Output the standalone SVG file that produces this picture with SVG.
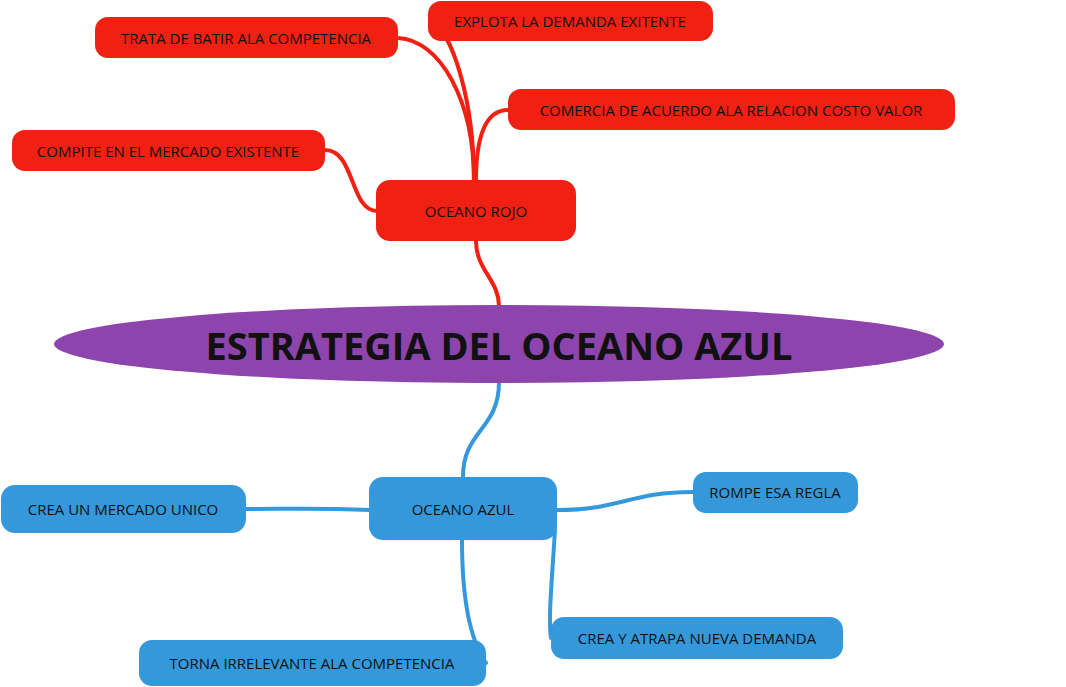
<svg xmlns="http://www.w3.org/2000/svg" width="1066" height="687" viewBox="0 0 1066 687">
<style>
.r{fill:#f02013}.b{fill:#3498db}
.t{font-family:"Open Sans",sans-serif;font-size:15px;fill:#111;text-anchor:middle;dominant-baseline:central}
.cr{fill:none;stroke:#f02013;stroke-width:4;stroke-linecap:round}
.cb{fill:none;stroke:#3498db;stroke-width:4;stroke-linecap:round}
</style>
<rect width="1066" height="687" fill="#fff"/>
<g id="connectors">
<path class="cr" d="M499,306 C499,280 476,270 476,241"/>
<path class="cr" d="M474,181 C474,100 440,40 398,38"/>
<path class="cr" d="M474,181 C474,100 452,30 430,20"/>
<path class="cr" d="M476,181 C476,130 488,110 508,110"/>
<path class="cr" d="M377,211 C350,211 355,150 325,150"/>
<path class="cb" d="M499,382 C499,430 463,430 463,477"/>
<path class="cb" d="M370,510 C320,508 290,509 246,509"/>
<path class="cb" d="M557,510 C620,510 630,492 693,492"/>
<path class="cb" d="M555,530 C552,580 548,620 551,638"/>
<path class="cb" d="M462,540 C462,600 470,640 486,663"/>
</g>
<g id="root"><ellipse cx="499" cy="344" rx="445" ry="39" fill="#8e44ad"/><text x="499" y="345" class="t" style="font-size:38px;font-weight:bold">ESTRATEGIA DEL OCEANO AZUL</text></g>
<g id="oceano-rojo"><rect class="r" x="376" y="180" width="200" height="61" rx="14"/><text class="t" x="476" y="211">OCEANO ROJO</text></g>
<g id="trata"><rect class="r" x="95" y="17" width="303" height="41" rx="13"/><text class="t" x="246" y="38">TRATA DE BATIR ALA COMPETENCIA</text></g>
<g id="explota"><rect class="r" x="428" y="1" width="285" height="40" rx="13"/><text class="t" x="570" y="21">EXPLOTA LA DEMANDA EXITENTE</text></g>
<g id="comercia"><rect class="r" x="508" y="89" width="447" height="41" rx="13"/><text class="t" x="731" y="110">COMERCIA DE ACUERDO ALA RELACION COSTO VALOR</text></g>
<g id="compite"><rect class="r" x="12" y="130" width="313" height="41" rx="13"/><text class="t" x="168" y="151">COMPITE EN EL MERCADO EXISTENTE</text></g>
<g id="oceano-azul"><rect class="b" x="369" y="477" width="188" height="63" rx="14"/><text class="t" x="463" y="509">OCEANO AZUL</text></g>
<g id="crea-mercado"><rect class="b" x="1" y="485" width="245" height="48" rx="14"/><text class="t" x="123" y="509">CREA UN MERCADO UNICO</text></g>
<g id="rompe"><rect class="b" x="693" y="472" width="165" height="41" rx="13"/><text class="t" x="775" y="492">ROMPE ESA REGLA</text></g>
<g id="crea-atrapa"><rect class="b" x="551" y="617" width="292" height="42" rx="13"/><text class="t" x="697" y="638">CREA Y ATRAPA NUEVA DEMANDA</text></g>
<g id="torna"><rect class="b" x="139" y="640" width="347" height="46" rx="13"/><text class="t" x="312" y="663">TORNA IRRELEVANTE ALA COMPETENCIA</text></g>
</svg>
